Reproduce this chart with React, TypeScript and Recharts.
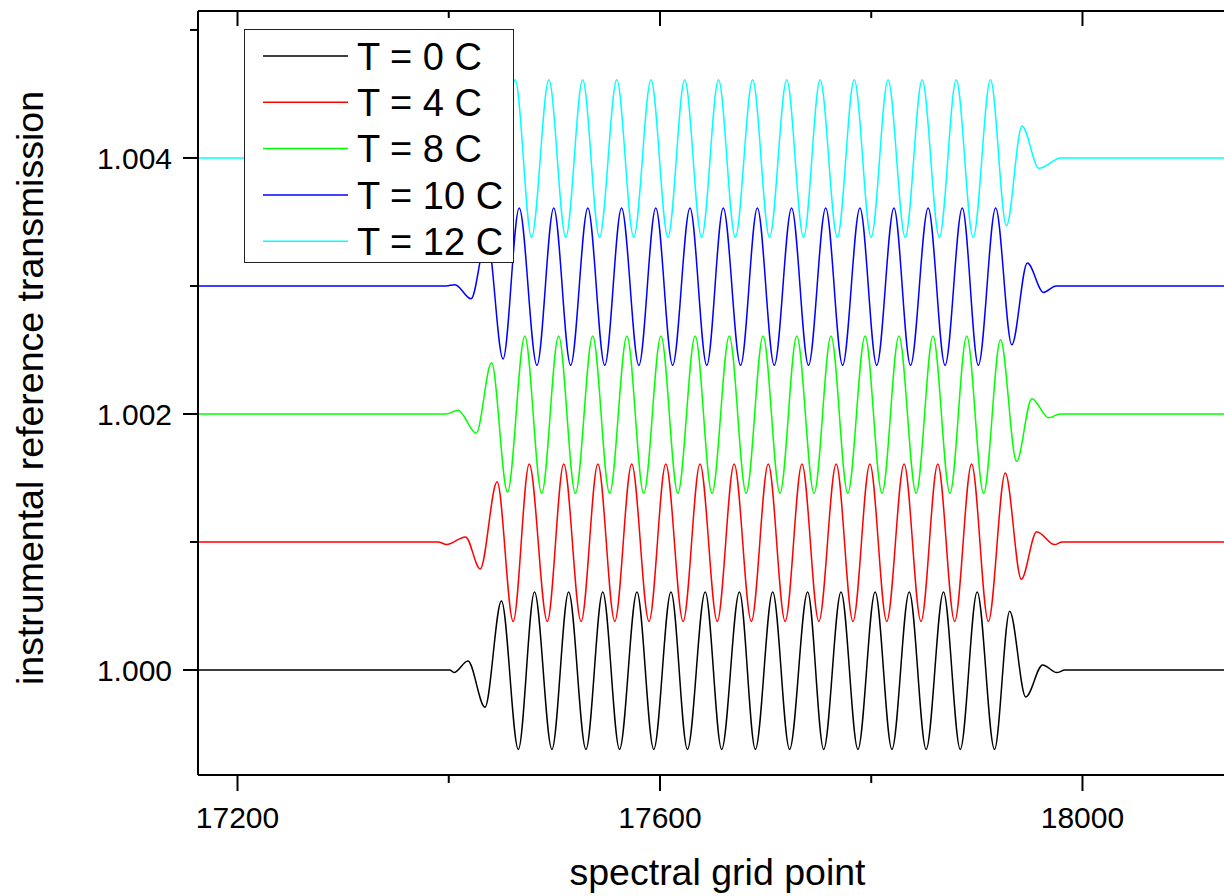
import React from 'react';
import { LineChart, Line, XAxis, YAxis, Legend } from 'recharts';

const FONT = '"Liberation Sans", Arial, sans-serif';

// axis setup
const xTicks = [17200, 17400, 17600, 17800, 18000];
const yTicks = [1.0, 1.001, 1.002, 1.003, 1.004, 1.005];
const xDomain = [17162.6, 18146.3];
const yDomain = [0.99918, 1.005148];

const names = ['T = 0 C', 'T = 4 C', 'T = 8 C', 'T = 10 C', 'T = 12 C'];
const colors = ['#000000', '#ff0000', '#00ff00', '#0000ff', '#00ffff'];

// T = 0 C
const x0C = [17150, 17401, 17405, 17418.2, 17434.3, 17449.9, 17465.9,
  17481.2, 17497.7, 17513.5, 17529.9, 17545.8, 17561.7, 17578.2, 17594.1,
  17610.4, 17626.0, 17642.8, 17658.4, 17675.2, 17690.3, 17706.7, 17722.7,
  17739.8, 17755.0, 17771.4, 17787.4, 17803.7, 17819.6, 17836.0, 17852.0,
  17868.4, 17884.3, 17900.3, 17916.7,
  17931.1, 17946.3, 17962.3, 17975.7, 17983.4, 18160];
const y0C = [1, 1, 0.99998, 1.00007, 0.99971, 1.00054, 0.99938,
  1.00061, 0.99938, 1.00061, 0.99938, 1.00061, 0.99938, 1.00061, 0.99938,
  1.00061, 0.99938, 1.00061, 0.99938, 1.00061, 0.99938, 1.00061, 0.99938,
  1.00061, 0.99938, 1.00061, 0.99938, 1.00061, 0.99938, 1.00061, 0.99938,
  1.00061, 0.99938, 1.00061, 0.99938,
  1.00046, 0.99979, 1.00004, 0.99998, 1, 1];

// T = 4 C
const x4C = [17150, 17390, 17398, 17415.8, 17429.8, 17445.8, 17461.0,
  17476.2, 17493.3, 17508.9, 17525.3, 17541.2, 17557.2, 17573.2, 17589.6,
  17605.5, 17621.9, 17637.9, 17654.2, 17670.2, 17686.5, 17702.5, 17718.5,
  17734.4, 17750.4, 17766.8, 17782.7, 17798.7, 17814.7, 17831.1, 17847.1,
  17863.0, 17879.0, 17895.0, 17910.9,
  17926.9, 17942.1, 17956.6, 17973.7, 17980.6, 18160];
const y4C = [1.001, 1.001, 1.00098, 1.00104, 1.00079, 1.00147, 1.00038,
  1.00161, 1.00038, 1.00161, 1.00038, 1.00161, 1.00038, 1.00161, 1.00038,
  1.00161, 1.00038, 1.00161, 1.00038, 1.00161, 1.00038, 1.00161, 1.00038,
  1.00161, 1.00038, 1.00161, 1.00038, 1.00161, 1.00038, 1.00161, 1.00038,
  1.00161, 1.00038, 1.00161, 1.00038,
  1.00154, 1.00071, 1.00108, 1.00098, 1.001, 1.001];

// T = 8 C
const x8C = [17150, 17397.4, 17408.8, 17426.0, 17440.5, 17455.6,
  17472.0, 17488.0, 17504.0, 17519.9, 17536.3, 17552.3, 17568.7, 17584.6,
  17600.9, 17616.9, 17633.3, 17649.2, 17665.6, 17681.6, 17697.6, 17713.6,
  17729.5, 17745.9, 17761.9, 17777.8, 17794.2, 17810.2, 17826.2, 17842.5,
  17858.5, 17874.5, 17890.4, 17906.4,
  17922.4, 17937.6, 17952.0, 17968.0, 17978.7, 18160];
const y8C = [1.002, 1.002, 1.00203, 1.00185, 1.0024, 1.00139,
  1.00261, 1.00138, 1.00261, 1.00138, 1.00261, 1.00138, 1.00261, 1.00138,
  1.00261, 1.00138, 1.00261, 1.00138, 1.00261, 1.00138, 1.00261, 1.00138,
  1.00261, 1.00138, 1.00261, 1.00138, 1.00261, 1.00138, 1.00261, 1.00138,
  1.00261, 1.00138, 1.00261, 1.00138,
  1.00258, 1.00163, 1.00212, 1.00197, 1.002, 1.002];

// T = 10 C
const x10C = [17150, 17397.4, 17405.9, 17421.1, 17436.2, 17451.4,
  17466.7, 17483.5, 17499.4, 17515.4, 17531.7, 17547.7, 17563.6, 17580.0,
  17596.0, 17612.0, 17628.4, 17644.3, 17659.9, 17676.3, 17692.2, 17708.2,
  17724.6, 17740.6, 17756.9, 17772.9, 17789.3, 17805.2, 17821.5, 17837.2,
  17853.9, 17869.9, 17886.2, 17901.4,
  17917.8, 17933.1, 17947.8, 17963.1, 17974.9, 18160];
const y10C = [1.003, 1.003, 1.00301, 1.0029, 1.00339, 1.00243,
  1.00361, 1.00238, 1.00361, 1.00238, 1.00361, 1.00238, 1.00361, 1.00238,
  1.00361, 1.00238, 1.00361, 1.00238, 1.00361, 1.00238, 1.00361, 1.00238,
  1.00361, 1.00238, 1.00361, 1.00238, 1.00361, 1.00238, 1.00361, 1.00238,
  1.00361, 1.00238, 1.00361, 1.00238,
  1.00361, 1.00254, 1.00318, 1.00295, 1.003, 1.003];

// T = 12 C
const x12C = [17150, 17392.7, 17401.2, 17416.3, 17431.5, 17446.6,
  17462.9, 17478.4, 17494.8, 17510.8, 17526.8, 17542.7, 17559.1, 17575.1,
  17591.5, 17607.5, 17623.4, 17639.4, 17655.4, 17671.3, 17687.7, 17703.7,
  17720.0, 17735.9, 17751.6, 17767.9, 17783.9, 17799.9, 17815.9, 17832.2,
  17848.2, 17864.5, 17880.5, 17896.5,
  17912.9, 17928.0, 17942.7, 17958.8, 17979.6, 18160];
const y12C = [1.004, 1.004, 1.00402, 1.0039, 1.0044, 1.0034,
  1.00461, 1.00338, 1.00461, 1.00338, 1.00461, 1.00338, 1.00461, 1.00338,
  1.00461, 1.00338, 1.00461, 1.00338, 1.00461, 1.00338, 1.00461, 1.00338,
  1.00461, 1.00338, 1.00461, 1.00338, 1.00461, 1.00338, 1.00461, 1.00338,
  1.00461, 1.00338, 1.00461, 1.00338,
  1.00461, 1.00347, 1.00425, 1.00392, 1.004, 1.004];

const zip = (xs: number[], ys: number[]) => xs.map((x, i) => ({ x, y: ys[i] }));

const series = [
  zip(x0C, y0C),
  zip(x4C, y4C),
  zip(x8C, y8C),
  zip(x10C, y10C),
  zip(x12C, y12C),
];

const BottomTick = ({ x, y, payload }: any) => {
  const major = payload.value % 400 === 0;
  return (
    <g>
      <line x1={x} y1={y} x2={x} y2={y + (major ? 16 : 8)} stroke="#000" strokeWidth={2} />
      {major && (
        <text x={x} y={y + 53} textAnchor="middle" fontSize={30} fontFamily={FONT} fill="#000">
          {payload.value}
        </text>
      )}
    </g>
  );
};

const TopTick = ({ x, y, payload }: any) => {
  const major = payload.value % 400 === 0;
  return <line x1={x} y1={y} x2={x} y2={y + (major ? 15 : 7)} stroke="#000" strokeWidth={2} />;
};

const LeftTick = ({ x, y, payload }: any) => {
  const major = Math.round(payload.value * 1000) % 2 === 0;
  return (
    <g>
      <line x1={x - (major ? 15 : 8)} y1={y} x2={x} y2={y} stroke="#000" strokeWidth={2} />
      {major && (
        <text x={x - 26} y={y + 10.7} textAnchor="end" fontSize={30} fontFamily={FONT} fill="#000">
          {payload.value.toFixed(3)}
        </text>
      )}
    </g>
  );
};

const XTitle = ({ viewBox }: any) => (
  <text x={viewBox.x + viewBox.width / 2} y={viewBox.y + 110} textAnchor="middle" fontSize={37.5} fontFamily={FONT} fill="#000">
    spectral grid point
  </text>
);

const YTitle = ({ viewBox }: any) => {
  const cx = 43;
  const cy = viewBox.y + viewBox.height / 2 - 5;
  return (
    <text x={cx} y={cy} transform={`rotate(-90, ${cx}, ${cy})`} textAnchor="middle" fontSize={37.5} fontFamily={FONT} fill="#000">
      instrumental reference transmission
    </text>
  );
};

const LegendBox = () => (
  <svg width={270} height={234} style={{ display: 'block', background: '#fff' }}>
    <rect x={0.5} y={0.5} width={269} height={233} fill="#fff" stroke="#222" strokeWidth={1} />
    {names.map((name, i) => {
      const cy = 27 + i * 46.3;
      return (
        <g key={name}>
          <line x1={19} y1={cy} x2={104} y2={cy} stroke={colors[i]} strokeWidth={1.5} />
          <text x={113} y={cy + 13.8} fontSize={38} fontFamily={FONT} fill="#000">
            {name}
          </text>
        </g>
      );
    })}
  </svg>
);

export default function App() {
  return (
    <div style={{ position: 'absolute', left: 0, top: 0, width: 1224, height: 896, overflow: 'hidden', background: '#fff' }}>
      <LineChart width={1250} height={896} margin={{ top: 0, right: 13, bottom: 0, left: 0 }}>
        <XAxis
          dataKey="x"
          type="number"
          domain={xDomain}
          allowDataOverflow
          ticks={xTicks}
          interval={0}
          height={121}
          tickSize={0}
          tickMargin={0}
          tickLine={false}
          axisLine={{ stroke: '#000', strokeWidth: 2 }}
          tick={<BottomTick />}
          label={<XTitle />}
        />
        <XAxis
          xAxisId="top"
          orientation="top"
          dataKey="x"
          type="number"
          domain={xDomain}
          allowDataOverflow
          ticks={xTicks}
          interval={0}
          height={11}
          tickSize={0}
          tickMargin={0}
          tickLine={false}
          axisLine={{ stroke: '#000', strokeWidth: 2 }}
          tick={<TopTick />}
        />
        <YAxis
          type="number"
          domain={yDomain}
          allowDataOverflow
          ticks={yTicks}
          interval={0}
          width={198}
          tickSize={0}
          tickMargin={0}
          tickLine={false}
          axisLine={{ stroke: '#000', strokeWidth: 2 }}
          tick={<LeftTick />}
          label={<YTitle />}
        />
        {series.map((data, i) => (
          <Line
            key={names[i]}
            data={data}
            dataKey="y"
            name={names[i]}
            type="monotone"
            stroke={colors[i]}
            strokeWidth={1.5}
            dot={false}
            activeDot={false}
            isAnimationActive={false}
          />
        ))}
        <Legend
          layout="vertical"
          align="center"
          verticalAlign="middle"
          wrapperStyle={{ left: 244, top: 29, width: 270, height: 234 }}
          content={() => <LegendBox />}
        />
      </LineChart>
    </div>
  );
}
